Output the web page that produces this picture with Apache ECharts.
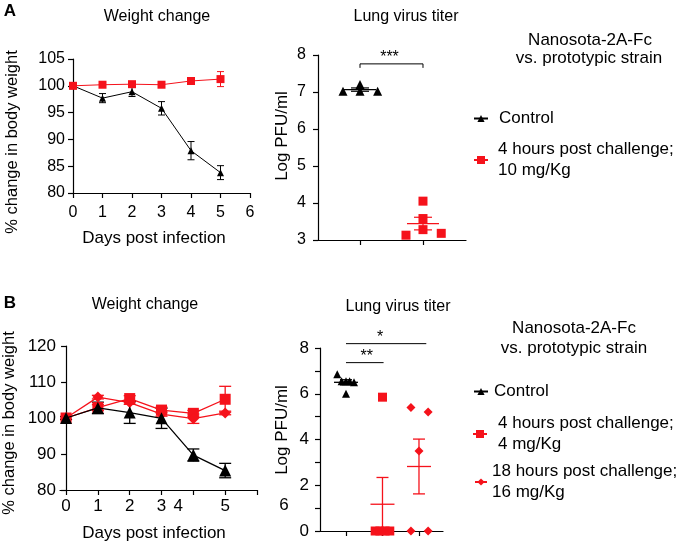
<!DOCTYPE html>
<html><head><meta charset="utf-8">
<script src="https://cdn.jsdelivr.net/npm/echarts@6/dist/echarts.min.js"></script>
<style>html,body{margin:0;padding:0;background:#fff}#c{width:677px;height:543px}</style>
</head><body><div id="c"></div>
<script>
// ================= DATA =================
// Panel A – weight change (% of day 0)
const daysA = [0, 1, 2, 3, 4, 5];
const controlA = [100, 97.7, 98.9, 95.8, 87.9, 83.8];
const controlAErr = [0.2, 0.85, 0.9, 1.25, 1.7, 1.3];
const treatA = [100, 100.2, 100.3, 100.2, 100.9, 101.25];
const treatAErr = [0.2, 0.3, 0.3, 0.4, 0.55, 1.4];

// Panel A – lung virus titer (Log PFU/ml), groups at x = 1, 2
const titerCtlA = [7.02, 7.2, 7.02, 7.02];
const titerCtlAJitter = [-0.27, 0, 0, 0.28];
const titerTrtA = [3.13, 4.05, 3.58, 3.28, 3.18];
const titerTrtAJitter = [-0.27, 0, 0, 0, 0.29];
const sigA = [[1, 2, 7.76]];
const sigLabelsA = ['***'];

// Panel B – weight change
const daysB = [0, 1, 2, 3, 4, 5];
const controlB = [100, 102.8, 101.5, 99.9, 89.7, 85.4];
const controlBErr = [0.4, 1.6, 3.0, 2.8, 1.7, 2.0];
const sq4B = [100, 102.9, 105.4, 102.2, 101.3, 105.2];
const sq4BErr = [0.4, 0.8, 0.8, 0.8, 0.8, 3.6];
const dm18B = [100, 105.8, 104.3, 101.1, 99.8, 101.4];
const dm18BErr = [0.4, 0.5, 0.5, 0.6, 1.3, 0.5];

// Panel B – lung virus titer, groups at x = 1, 2, 3
const titerCtlB = [6.85, 6.55, 6.55, 6.0, 6.55, 6.5];
const titerCtlBJitter = [-0.24, -0.12, 0, 0, 0.1, 0.22];
const titerSqB = [5.85, 0, 0, 0, 0];
const titerSqBJitter = [0, -0.2, -0.07, 0.07, 0.2];
const titerDmB = [5.4, 5.2, 3.5, 0, 0];
const titerDmBJitter = [-0.22, 0.25, 0, -0.22, 0.25];
const sigB = [[1, 3.2, 8.19], [1, 2.03, 7.36]];
const sigLabelsB = ['*', '**'];

// Legend names
const nameCtl = 'Control';
const nameA = '4 hours post challenge;\n10 mg/Kg';
const nameB1 = '4 hours post challenge;\n4 mg/Kg';
const nameB2 = '18 hours post challenge;\n16 mg/Kg';

// ================= HELPERS =================
const RED = '#f5121b';
const BLK = '#000000';
const FONT = '"Liberation Sans", Arial, Helvetica, sans-serif';

function zip(xs, ys) { return xs.map((x, i) => [x, ys[i]]); }
function zip3(xs, ys, es) { return xs.map((x, i) => [x, ys[i], es[i]]); }
function jit(group, offs, vals) { return vals.map((v, i) => [group + offs[i], v]); }
function meanSem(vals) {
  const n = vals.length;
  const m = vals.reduce((a, b) => a + b, 0) / n;
  const sd = Math.sqrt(vals.reduce((a, b) => a + (b - m) * (b - m), 0) / (n - 1));
  return [m, sd / Math.sqrt(n)];
}

function errRender(color, cap, lw) {
  return function (params, api) {
    const x = api.value(0), y = api.value(1), e = api.value(2);
    const hi = api.coord([x, y + e]), lo = api.coord([x, y - e]);
    const st = { stroke: color, lineWidth: lw };
    return { type: 'group', children: [
      { type: 'line', shape: { x1: hi[0], y1: hi[1], x2: lo[0], y2: lo[1] }, style: st },
      { type: 'line', shape: { x1: hi[0] - cap, y1: hi[1], x2: hi[0] + cap, y2: hi[1] }, style: st },
      { type: 'line', shape: { x1: lo[0] - cap, y1: lo[1], x2: lo[0] + cap, y2: lo[1] }, style: st }
    ]};
  };
}
function meanSemRender(colors, meanHalf, semHalf, lw) {
  return function (params, api) {
    const x = api.value(0), m = api.value(1), s = api.value(2);
    const c = colors[params.dataIndex];
    const pm = api.coord([x, m]), ph = api.coord([x, m + s]), pl = api.coord([x, m - s]);
    const st = { stroke: c, lineWidth: lw };
    return { type: 'group', children: [
      { type: 'line', shape: { x1: pm[0] - meanHalf, y1: pm[1], x2: pm[0] + meanHalf, y2: pm[1] }, style: st },
      { type: 'line', shape: { x1: ph[0], y1: ph[1], x2: pl[0], y2: pl[1] }, style: st },
      { type: 'line', shape: { x1: ph[0] - semHalf, y1: ph[1], x2: ph[0] + semHalf, y2: ph[1] }, style: st },
      { type: 'line', shape: { x1: pl[0] - semHalf, y1: pl[1], x2: pl[0] + semHalf, y2: pl[1] }, style: st }
    ]};
  };
}
function sigRender(labels, tick, fs, dx) {
  return function (params, api) {
    const x1 = api.value(0), x2 = api.value(1), y = api.value(2);
    const a = api.coord([x1, y]), b = api.coord([x2, y]);
    const st = { stroke: BLK, lineWidth: 1 };
    const ch = [{ type: 'line', shape: { x1: a[0], y1: a[1], x2: b[0], y2: b[1] }, style: st }];
    if (tick) {
      ch.push({ type: 'line', shape: { x1: a[0], y1: a[1], x2: a[0], y2: a[1] + tick }, style: st });
      ch.push({ type: 'line', shape: { x1: b[0], y1: b[1], x2: b[0], y2: b[1] + tick }, style: st });
    }
    ch.push({ type: 'text', x: (a[0] + b[0]) / 2 + (dx[params.dataIndex] || 0), y: a[1] - 6,
      style: { text: labels[params.dataIndex], textAlign: 'center', textVerticalAlign: 'middle',
               align: 'center', verticalAlign: 'middle', fontSize: fs, fontFamily: FONT, fill: BLK } });
    return { type: 'group', children: ch };
  };
}

const [mCtlA, sCtlA] = meanSem(titerCtlA);
const [mTrtA, sTrtA] = meanSem(titerTrtA);
const [mCtlB, sCtlB] = meanSem(titerCtlB);
const [mSqB, sSqB] = meanSem(titerSqB);
const [mDmB, sDmB] = meanSem(titerDmB);

function axisCommon(fs, margin) {
  return {
    axisLine: { show: true, lineStyle: { color: BLK, width: 1.2 } },
    axisTick: { show: true, inside: false, length: 5, lineStyle: { color: BLK, width: 1.2 } },
    axisLabel: { color: BLK, fontSize: fs, fontFamily: FONT, margin: margin },
    splitLine: { show: false }
  };
}

function txt(x, y, s, fs, opts) {
  opts = opts || {};
  return { type: 'text', x: x, y: y, rotation: opts.rot || 0, silent: true,
    style: { text: s, fontSize: fs, fontFamily: FONT, fontWeight: opts.bold ? 'bold' : 'normal', fill: BLK,
      textAlign: 'center', textVerticalAlign: 'middle', align: 'center', verticalAlign: 'middle' } };
}

// ================= OPTION =================
const option = {
  animation: false,
  backgroundColor: '#fff',
  textStyle: { fontFamily: FONT },
  grid: [
    { left: 73, top: 59, width: 177, height: 134 },
    { left: 318, top: 55, width: 148, height: 185 },
    { left: 60, top: 346, width: 197, height: 144 },
    { left: 320, top: 348, width: 123, height: 183 }
  ],
  xAxis: [
    Object.assign(axisCommon(16, 12), { type: 'value', gridIndex: 0, min: 0, max: 6, interval: 1 }),
    Object.assign(axisCommon(16, 8), { type: 'value', gridIndex: 1, min: 0.333, max: 2.683,
      axisTick: { show: true, length: 5, customValues: [1, 2], lineStyle: { color: BLK, width: 1.2 } },
      axisLabel: { show: false } }),
    Object.assign(axisCommon(17, 8), { type: 'value', gridIndex: 2, min: -0.19, max: 6,
      axisTick: { show: true, length: 5, customValues: [0, 1, 2, 3, 4, 5, 6], lineStyle: { color: BLK, width: 1.2 } },
      axisLabel: { color: BLK, fontSize: 17, fontFamily: FONT, margin: 8, customValues: [0, 1, 2, 3, 4, 5],
        formatter: function (v) { return v === 4 ? '{sh|4}' : String(v); },
        rich: { sh: { fontSize: 17, fontFamily: FONT, color: BLK, padding: [0, 30, 0, 0] } } } }),
    Object.assign(axisCommon(16, 8), { type: 'value', gridIndex: 3, min: 0.288, max: 3.658,
      axisTick: { show: true, length: 5, customValues: [1, 2, 3], lineStyle: { color: BLK, width: 1.2 } },
      axisLabel: { show: false } })
  ],
  yAxis: [
    Object.assign(axisCommon(16, 8), { type: 'value', gridIndex: 0, min: 80, max: 105, interval: 5 }),
    Object.assign(axisCommon(16, 12), { type: 'value', gridIndex: 1, min: 3, max: 8, interval: 1 }),
    Object.assign(axisCommon(17, 4), { type: 'value', gridIndex: 2, min: 80, max: 120, interval: 10 }),
    (function () {
      const a = Object.assign(axisCommon(17, 11), { type: 'value', gridIndex: 3, min: 0, max: 8, interval: 1 });
      a.axisLabel.formatter = function (v) { return v % 2 === 0 ? String(v) : ''; };
      return a;
    })()
  ],
  legend: [
    { left: 473, top: 108, orient: 'vertical', padding: 0, itemWidth: 14, itemHeight: 9, data: [nameCtl],
      textStyle: { fontSize: 17, fontFamily: FONT, color: BLK, padding: [0, 0, 0, 6], lineHeight: 21 } },
    { left: 473, top: 139, orient: 'vertical', padding: 0, itemWidth: 14, itemHeight: 10, data: [nameA],
      textStyle: { fontSize: 17, fontFamily: FONT, color: BLK, padding: [0, 0, 0, 5], lineHeight: 21 } },
    { left: 473, top: 381, orient: 'vertical', padding: 0, itemWidth: 14, itemHeight: 9, data: [nameCtl],
      textStyle: { fontSize: 17, fontFamily: FONT, color: BLK, padding: [0, 0, 0, 1], lineHeight: 21 } },
    { left: 472, top: 413, orient: 'vertical', padding: 0, itemWidth: 14, itemHeight: 10, data: [nameB1],
      textStyle: { fontSize: 17, fontFamily: FONT, color: BLK, padding: [0, 0, 0, 6], lineHeight: 21 } },
    { left: 474, top: 461, orient: 'vertical', padding: 0, itemWidth: 12, itemHeight: 9, data: [nameB2],
      textStyle: { fontSize: 17, fontFamily: FONT, color: BLK, padding: [0, 0, 0, 0], lineHeight: 21 } }
  ],
  graphic: [
    txt(10, 11, 'A', 17, { bold: true }),
    txt(157, 17, 'Weight change', 16),
    txt(406, 17, 'Lung virus titer', 16),
    txt(590, 40, 'Nanosota-2A-Fc', 17),
    txt(589, 58, 'vs. prototypic strain', 17),
    txt(12, 142, '% change in body weight', 16.5, { rot: Math.PI / 2 }),
    txt(154, 238, 'Days post infection', 17),
    txt(282, 136, 'Log PFU/ml', 17, { rot: Math.PI / 2 }),
    txt(10, 303, 'B', 17, { bold: true }),
    txt(145, 305, 'Weight change', 16),
    txt(398, 307, 'Lung virus titer', 16),
    txt(574, 328, 'Nanosota-2A-Fc', 17),
    txt(574, 348, 'vs. prototypic strain', 17),
    txt(9, 423, '% change in body weight', 16.5, { rot: Math.PI / 2 }),
    txt(154, 533, 'Days post infection', 17),
    txt(282, 430, 'Log PFU/ml', 17, { rot: Math.PI / 2 }),
    txt(284, 505, '6', 17)
  ],
  series: [
    // ---- A weight ----
    { name: nameCtl, type: 'line', xAxisIndex: 0, yAxisIndex: 0, data: zip(daysA, controlA),
      symbol: 'triangle', symbolSize: 7, z: 5, color: BLK, lineStyle: { color: BLK, width: 1 }, itemStyle: { color: BLK, opacity: 1 } },
    { name: nameA, type: 'line', xAxisIndex: 0, yAxisIndex: 0, data: zip(daysA, treatA),
      symbol: 'rect', symbolSize: 8, z: 5, color: RED, lineStyle: { color: RED, width: 1 }, itemStyle: { color: RED, opacity: 1 } },
    // ---- B weight ----
    { name: nameB1, type: 'line', xAxisIndex: 2, yAxisIndex: 2, data: zip(daysB, sq4B),
      symbol: 'rect', symbolSize: 11, z: 5, color: RED, lineStyle: { color: RED, width: 1.3 }, itemStyle: { color: RED, opacity: 1 } },
    { name: nameB2, type: 'line', xAxisIndex: 2, yAxisIndex: 2, data: zip(daysB, dm18B),
      symbol: 'diamond', symbolSize: 11, z: 5, color: RED, lineStyle: { color: RED, width: 1.3 }, itemStyle: { color: RED, opacity: 1 } },
    { name: nameCtl, type: 'line', xAxisIndex: 2, yAxisIndex: 2, data: zip(daysB, controlB),
      symbol: 'triangle', symbolSize: 12, z: 6, color: BLK, lineStyle: { color: BLK, width: 1.3 }, itemStyle: { color: BLK, opacity: 1 } },
    // error bars
    { name: nameCtl, type: 'custom', xAxisIndex: 0, yAxisIndex: 0, z: 4, data: zip3(daysA, controlA, controlAErr),
      renderItem: errRender(BLK, 3.5, 1), encode: { x: 0, y: 1 } },
    { name: nameA, type: 'custom', xAxisIndex: 0, yAxisIndex: 0, z: 4, data: zip3(daysA, treatA, treatAErr),
      renderItem: errRender(RED, 3.5, 1), encode: { x: 0, y: 1 } },
    { name: nameB1, type: 'custom', xAxisIndex: 2, yAxisIndex: 2, z: 4, data: zip3(daysB, sq4B, sq4BErr),
      renderItem: errRender(RED, 6, 1.3), encode: { x: 0, y: 1 } },
    { name: nameB2, type: 'custom', xAxisIndex: 2, yAxisIndex: 2, z: 4, data: zip3(daysB, dm18B, dm18BErr),
      renderItem: errRender(RED, 6, 1.3), encode: { x: 0, y: 1 } },
    { name: nameCtl, type: 'custom', xAxisIndex: 2, yAxisIndex: 2, z: 4, data: zip3(daysB, controlB, controlBErr),
      renderItem: errRender(BLK, 6, 1.3), encode: { x: 0, y: 1 } },
    // ---- A titer ----
    { name: nameCtl, type: 'scatter', xAxisIndex: 1, yAxisIndex: 1, data: jit(1, titerCtlAJitter, titerCtlA),
      symbol: 'triangle', symbolSize: 9, itemStyle: { color: BLK, opacity: 1 } },
    { name: nameA, type: 'scatter', xAxisIndex: 1, yAxisIndex: 1, data: jit(2, titerTrtAJitter, titerTrtA),
      symbol: 'rect', symbolSize: 9, itemStyle: { color: RED, opacity: 1 } },
    { type: 'custom', xAxisIndex: 1, yAxisIndex: 1, z: 6, data: [[1, mCtlA, sCtlA], [2, mTrtA, sTrtA]],
      renderItem: meanSemRender([BLK, RED], 16, 9, 1.2), encode: { x: 0, y: 1 } },
    { type: 'custom', xAxisIndex: 1, yAxisIndex: 1, data: sigA, clip: false,
      renderItem: sigRender(sigLabelsA, 4, 16, [-2]), encode: { x: 0, y: 2 } },
    // ---- B titer ----
    { name: nameCtl, type: 'scatter', xAxisIndex: 3, yAxisIndex: 3, data: jit(1, titerCtlBJitter, titerCtlB),
      symbol: 'triangle', symbolSize: 8, itemStyle: { color: BLK, opacity: 1 } },
    { name: nameB1, type: 'scatter', xAxisIndex: 3, yAxisIndex: 3, data: jit(2, titerSqBJitter, titerSqB),
      symbol: 'rect', symbolSize: 9, itemStyle: { color: RED, opacity: 1 } },
    { name: nameB2, type: 'scatter', xAxisIndex: 3, yAxisIndex: 3, data: jit(3, titerDmBJitter, titerDmB),
      symbol: 'diamond', symbolSize: 9, itemStyle: { color: RED, opacity: 1 } },
    { type: 'custom', xAxisIndex: 3, yAxisIndex: 3, z: 6, data: [[1, mCtlB, sCtlB], [2, mSqB, sSqB], [3, mDmB, sDmB]],
      renderItem: meanSemRender([BLK, RED, RED], 12, 6, 1.3), encode: { x: 0, y: 1 } },
    { type: 'custom', xAxisIndex: 3, yAxisIndex: 3, data: sigB, clip: false,
      renderItem: sigRender(sigLabelsB, 0, 16, [-6, 2]), encode: { x: 0, y: 2 } }
  ]
};

const chart = echarts.init(document.getElementById('c'), null, { renderer: 'canvas' });
chart.setOption(option);
</script>
</body></html>
